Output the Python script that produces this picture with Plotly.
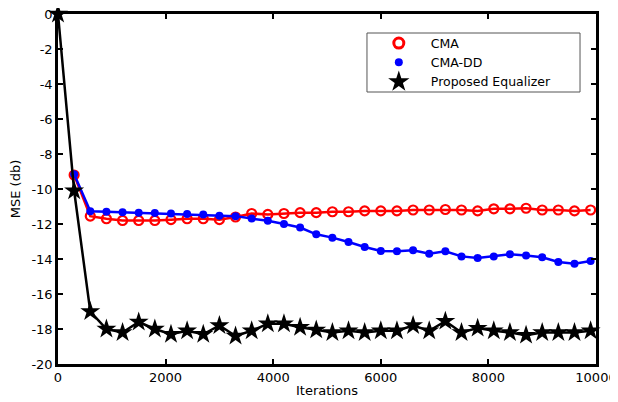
import plotly.graph_objects as go

# ---- data ----
iters_all = [0, 300, 600, 900, 1200, 1500, 1800, 2100, 2400, 2700, 3000, 3300,
             3600, 3900, 4200, 4500, 4800, 5100, 5400, 5700, 6000, 6300, 6600,
             6900, 7200, 7500, 7800, 8100, 8400, 8700, 9000, 9300, 9600, 9900]
iters_cma = iters_all[1:]

cma = [-9.2, -11.55, -11.7, -11.8, -11.8, -11.8, -11.75, -11.7, -11.7, -11.75, -11.6,
       -11.4, -11.45, -11.4, -11.35, -11.35, -11.3, -11.3, -11.25, -11.25, -11.25, -11.2,
       -11.2, -11.17, -11.2, -11.25, -11.13, -11.13, -11.1, -11.2, -11.2, -11.25, -11.2]

cma_dd = [-9.15, -11.27, -11.3, -11.33, -11.35, -11.37, -11.4, -11.43, -11.46, -11.53, -11.55,
          -11.69, -11.82, -12.0, -12.2, -12.59, -12.78, -13.03, -13.31, -13.54, -13.55, -13.5,
          -13.7, -13.56, -13.85, -13.94, -13.85, -13.73, -13.8, -13.9, -14.17, -14.27, -14.12]

proposed = [0, -10.1, -17.0, -18.0, -18.2, -17.6, -18.0, -18.3, -18.1, -18.3, -17.8, -18.4,
            -18.1, -17.7, -17.7, -17.9, -18.05, -18.2, -18.1, -18.2, -18.1, -18.1, -17.8,
            -18.1, -17.55, -18.2, -17.95, -18.1, -18.2, -18.35, -18.2, -18.2, -18.2, -18.1]

names = ["CMA", "CMA-DD", "Proposed Equalizer"]
x_ticks = [0, 2000, 4000, 6000, 8000, 10000]
y_ticks = [0, -2, -4, -6, -8, -10, -12, -14, -16, -18, -20]

FONT = "DejaVu Sans"

fig = go.Figure()

# plotted series (hidden from legend)
fig.add_trace(go.Scatter(
    x=iters_cma, y=cma, mode="lines+markers", showlegend=False,
    line=dict(color="#ff0000", width=2.5),
    marker=dict(symbol="circle-open", size=9, color="#ff0000", line=dict(width=2.2)),
))
fig.add_trace(go.Scatter(
    x=iters_cma, y=cma_dd, mode="lines+markers", showlegend=False,
    line=dict(color="#0000ff", width=2.5),
    marker=dict(symbol="circle", size=8, color="#0000ff"),
))
fig.add_trace(go.Scatter(
    x=iters_all, y=proposed, mode="lines+markers", showlegend=False,
    line=dict(color="#000000", width=2.5),
    marker=dict(symbol="star", size=15, color="#000000"),
    cliponaxis=False,
))

# legend entries (markers only)
fig.add_trace(go.Scatter(
    x=[None], y=[None], mode="markers", name=names[0],
    marker=dict(symbol="circle-open", size=10, color="#ff0000", line=dict(width=3)),
))
fig.add_trace(go.Scatter(
    x=[None], y=[None], mode="markers", name=names[1],
    marker=dict(symbol="circle", size=8, color="#0000ff"),
))
fig.add_trace(go.Scatter(
    x=[None], y=[None], mode="markers", name=names[2],
    marker=dict(symbol="star", size=16, color="#000000"),
))

axis_common = dict(
    showline=True, linecolor="black", linewidth=2.5, mirror="ticks",
    ticks="inside", ticklen=5, tickwidth=2, tickcolor="black",
    showgrid=False, zeroline=False, automargin=False,
    ticklabeloverflow="allow",
    tickfont=dict(family=FONT, size=13, color="black"),
)

fig.update_layout(
    width=610, height=394,
    margin=dict(l=50, r=22, t=6, b=38),
    paper_bgcolor="white", plot_bgcolor="white",
    font=dict(family=FONT, size=13, color="black"),
    xaxis=dict(range=[0, 10000], tickvals=x_ticks, ticktext=[str(v) for v in x_ticks],
               title=dict(text="Iterations", font=dict(family=FONT, size=13), standoff=2),
               **axis_common),
    yaxis=dict(range=[-20, 0], tickvals=y_ticks, ticktext=[str(v) for v in y_ticks],
               title=dict(text="MSE (db)", font=dict(family=FONT, size=13), standoff=12),
               **axis_common),
    legend=dict(
        x=0.574, y=0.9586, xanchor="left", yanchor="top",
        bgcolor="rgba(0,0,0,0)", borderwidth=0,
        font=dict(family=FONT, size=12.5, color="black"),
        itemwidth=54, tracegroupgap=0,
    ),
    shapes=[dict(type="rect", xref="paper", yref="paper",
                 x0=0.5743, x1=0.9703, y0=0.7771, y1=0.9457,
                 line=dict(color="#555555", width=1), fillcolor="white", layer="above")],
    showlegend=True,
)

fig.write_html("out.html")
